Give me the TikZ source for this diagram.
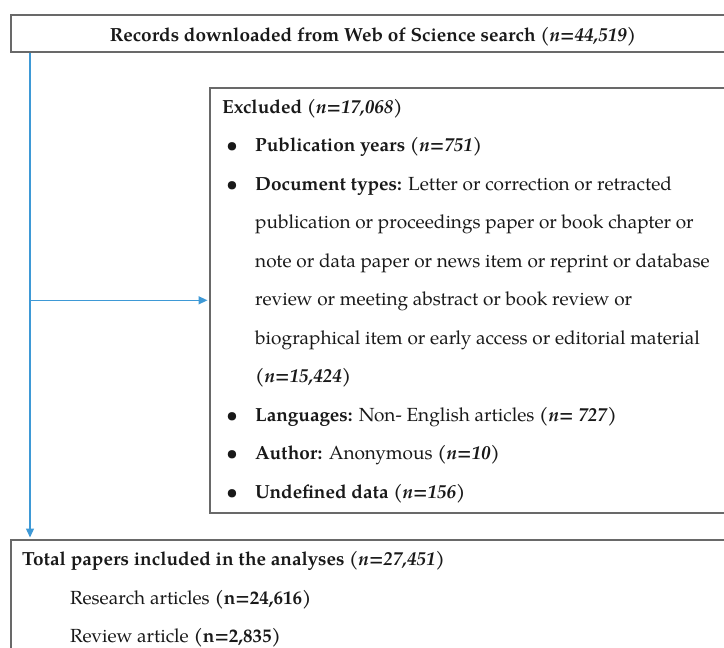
\documentclass[tikz,border=0pt]{standalone}
\usepackage{fontspec}
\setmainfont{TeX Gyre Pagella}
\usetikzlibrary{arrows.meta}
\definecolor{boxgray}{RGB}{105,105,105}
\definecolor{flowblue}{RGB}{62,153,214}
\definecolor{ink}{RGB}{25,25,25}
\begin{document}
\begin{tikzpicture}[x=1pt,y=-1pt,
  box/.style={draw=boxgray,line width=1.6pt,rectangle,inner sep=0pt,anchor=north west},
  flow/.style={draw=flowblue,line width=1.4pt,-{Triangle[length=9pt,width=8pt]},shorten >=1.5pt},
  txt/.style={anchor=base west,inner sep=0pt,text=ink,font=\fontsize{19}{22}\selectfont},
  bul/.style={anchor=base,inner sep=0pt,text=ink,font=\fontsize{19}{22}\selectfont\bfseries},
]
\useasboundingbox (0,0) rectangle (724,648);
% boxes
\node[box,minimum width=730pt,minimum height=37pt] (top) at (10,14) {};
\node[box,minimum width=530pt,minimum height=425pt] (excl) at (209,87) {};
\node[box,minimum width=730pt,minimum height=130pt] (bot) at (10,539) {};
% top text
\node[txt,anchor=base] (toptxt) at (373,41) {\textbf{Records downloaded from Web of Science search (\textit{n=44,519})}};
% excluded text
\node[txt] (e0) at (222,113) {\textbf{Excluded (\textit{n=17,068})}};
\node[bul] (b1) at (232,151.5) {\textbullet};
\node[txt] (e1) at (255,151.5) {\textbf{Publication years (\textit{n=751})}};
\node[bul] (b2) at (232,190) {\textbullet};
\node[txt] (e2) at (255,190) {\textbf{Document types:} Letter or correction or retracted};
\node[txt] (e3) at (255,228.5) {publication or proceedings paper or book chapter or};
\node[txt] (e4) at (255,267) {note or data paper or news item or reprint or database};
\node[txt] (e5) at (255,305.5) {review or meeting abstract or book review or};
\node[txt] (e6) at (255,344) {biographical item or early access or editorial material};
\node[txt] (e7) at (255,382.5) {\textbf{(\textit{n=15,424})}};
\node[bul] (b8) at (232,421) {\textbullet};
\node[txt] (e8) at (255,421) {\textbf{Languages:} Non- English articles \textbf{(\textit{n= 727})}};
\node[bul] (b9) at (232,459.5) {\textbullet};
\node[txt] (e9) at (255,459.5) {\textbf{Author:} Anonymous \textbf{(\textit{n=10})}};
\node[bul] (b10) at (232,498) {\textbullet};
\node[txt] (e10) at (255,498) {\textbf{Undefined data (\textit{n=156})}};
% bottom text
\node[txt] (t0) at (22,565) {\textbf{Total papers included in the analyses (\textit{n=27,451})}};
\node[txt] (t1) at (70,604) {Research articles \textbf{(n=24,616)}};
\node[txt] (t2) at (70,642) {Review article \textbf{(n=2,835)}};
% connectors
\coordinate (trunk) at ([xshift=20pt]top.south west);
\coordinate (land) at ([xshift=20pt]bot.north west);
\coordinate (branch) at (trunk |- excl.west);
\draw[flow] (trunk) -- (land);
\draw[flow] (branch) -- (excl.west);
\end{tikzpicture}
\end{document}
